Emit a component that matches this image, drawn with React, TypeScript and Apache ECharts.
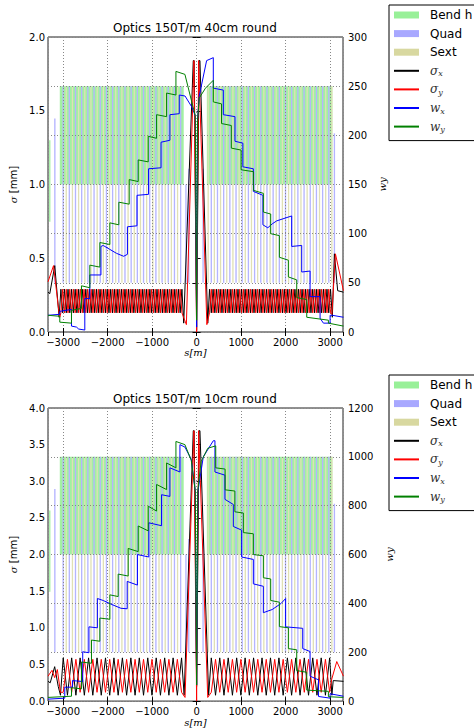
import React, { useEffect, useRef } from 'react';
import * as echarts from 'echarts';

// ---------- axes ----------
const S_RANGE = [-3340, 3290];
const titles = ['Optics 150T/m 40cm round', 'Optics 150T/m 10cm round'];
const sigmaAxisMax = [2, 4];
const sigmaAxisStep = [0.5, 0.5];
const wAxisMax = [300, 1200];
const wAxisStep = [50, 200];

const legendNames = ['Bend h', 'Quad', 'Sext', 'σx', 'σy', 'wx', 'wy'];

// ---------- lattice (heights in units of the 40cm chart right axis) ----------
const bendRanges = [[-3075, -290], [230, 3050]];
const extraBends = [[-3300, 112, 195]];
const quadS = [-3000, -2861, -2722, -2583, -2444, -2305, -2166, -2027, -1888, -1749, -1610, -1471, -1332, -1193, -1054, -915, -776, -637, -498, -359,
  330, 469, 608, 747, 886, 1025, 1164, 1303, 1442, 1581, 1720, 1859, 1998, 2137, 2276, 2415, 2554, 2693, 2832, 2971];
const extraQuads = [[-3186, 217], [-240, 150], [-177, 166], [145, 166], [3097, 202]];
const sextS = [-2930, -2791, -2652, -2513, -2374, -2235, -2096, -1957, -1818, -1679, -1540, -1401, -1262, -1123, -984, -845, -706, -567, -428,
  260, 399, 538, 677, 816, 955, 1094, 1233, 1372, 1511, 1650, 1789, 1928, 2067, 2206, 2345, 2484, 2623, 2762, 2901, 3040];

// ---------- sigma, 40cm ----------
const sigmaTopLeftS = [-3050, -3010, -2970, -2930, -2890, -2850, -2810, -2770, -2730, -2690, -2650, -2610, -2570, -2530, -2490, -2450, -2410, -2370, -2330, -2290, -2250, -2210, -2170, -2130, -2090, -2050, -2010, -1970, -1930, -1890, -1850, -1810, -1770, -1730, -1690, -1650, -1610, -1570, -1530, -1490, -1450, -1410, -1370, -1330, -1290, -1250, -1210, -1170, -1130, -1090, -1050, -1010, -970, -930, -890, -850, -810, -770, -730, -690, -650, -610, -570, -530, -490, -450, -410, -370, -330];
const sigmaTopRightS = [290, 330, 370, 410, 450, 490, 530, 570, 610, 650, 690, 730, 770, 810, 850, 890, 930, 970, 1010, 1050, 1090, 1130, 1170, 1210, 1250, 1290, 1330, 1370, 1410, 1450, 1490, 1530, 1570, 1610, 1650, 1690, 1730, 1770, 1810, 1850, 1890, 1930, 1970, 2010, 2050, 2090, 2130, 2170, 2210, 2250, 2290, 2330, 2370, 2410, 2450, 2490, 2530, 2570, 2610, 2650, 2690, 2730, 2770, 2810, 2850, 2890, 2930, 2970, 3010];
const sigmaTopLevels = [0.29, 0.13, 0.29, 0.13]; // x peak, x trough, y peak, y trough
const sigmaXTopLeftEnd = [[-3340, 0.27], [-3300, 0.26], [-3188, 0.45], [-3090, 0.1]];
const sigmaXTopCenter = [[-290, 0.06], [-75, 1.84], [-55, 1.84], [0, 0.01], [55, 1.84], [75, 1.84], [250, 0.06]];
const sigmaXTopRightEnd = [[3050, 0.1], [3097, 0.53], [3170, 0.28], [3300, 0.27]];
const sigmaYTopLeftEnd = [[-3340, 0.34], [-3216, 0.45], [-3100, 0.15], [-3075, 0.1]];
const sigmaYTopCenter = [[-230, 0.05], [-60, 1.84], [-45, 1.84], [0, 0.0], [45, 1.84], [60, 1.84], [230, 0.05]];
const sigmaYTopRightEnd = [[3040, 0.12], [3120, 0.53], [3300, 0.28]];

// ---------- w, 40cm ----------
const wxTop = [[-3340, 17], [-3075, 18], [-3075, 21], [-2812, 23], [-2812, 6], [-2700, 5], [-2650, 3], [-2513, 2], [-2513, 34], [-2400, 34], [-2400, 58], [-2150, 58], [-2150, 87], [-2100, 88], [-1950, 84], [-1800, 80], [-1640, 77], [-1555, 79], [-1555, 107], [-1340, 108], [-1340, 139], [-1080, 140], [-1080, 166], [-800, 167], [-800, 193], [-600, 195], [-600, 221], [-390, 222], [-390, 241], [-260, 240], [-110, 229], [-30, 220], [0, 5], [20, 215], [59, 240], [225, 276], [375, 279], [375, 248], [600, 246], [600, 221], [862, 219], [862, 194], [1040, 192], [1040, 168], [1275, 166], [1275, 143], [1490, 139], [1490, 109], [1600, 106], [1700, 110], [1800, 113], [2137, 118], [2137, 87], [2362, 88], [2362, 61], [2550, 62], [2550, 36], [2775, 36], [2775, 14], [2850, 9], [3000, 9], [3000, 17], [3050, 17], [3300, 15]];
const wyTop = [[-3340, 17], [-3075, 16], [-3075, 10], [-2812, 9], [-2812, 22], [-2588, 24], [-2588, 47], [-2400, 45], [-2400, 68], [-2175, 66], [-2175, 91], [-1950, 89], [-1950, 111], [-1748, 109], [-1748, 132], [-1515, 130], [-1515, 155], [-1313, 153], [-1313, 175], [-1088, 173], [-1088, 199], [-900, 197], [-900, 221], [-675, 219], [-675, 243], [-465, 241], [-465, 265], [-263, 262], [-120, 236], [-30, 220], [0, 12], [20, 215], [60, 238], [200, 248], [375, 256], [375, 234], [560, 232], [560, 212], [780, 210], [780, 187], [1000, 185], [1000, 165], [1280, 163], [1280, 144], [1500, 141], [1500, 122], [1665, 120], [1665, 100], [1860, 98], [1860, 76], [2062, 73], [2062, 56], [2250, 53], [2250, 35], [2475, 33], [2475, 15], [2962, 12], [2962, 9], [3300, 6]];

// ---------- sigma, 10cm ----------
const sigmaBottomLeftS = [-2998, -2903, -2808, -2713, -2618, -2523, -2428, -2333, -2238, -2143, -2048, -1953, -1858, -1763, -1668, -1573, -1478, -1383, -1288, -1193, -1098, -1003, -908, -813, -718, -623, -528, -433, -338];
const sigmaBottomRightS = [330, 425, 520, 615, 710, 805, 900, 995, 1090, 1185, 1280, 1375, 1470, 1565, 1660, 1755, 1850, 1945, 2040, 2135, 2230, 2325, 2420, 2515, 2610, 2705, 2800, 2895, 2990];
const sigmaBottomLevels = [0.59, 0.08, 0.57, 0.12];
const sigmaXBottomLeftEnd = [[-3340, 0.27], [-3290, 0.25], [-3190, 0.47], [-3110, 0.2], [-3060, 0.08]];
const sigmaXBottomCenter = [[-280, 0.08], [-75, 3.69], [-55, 3.69], [0, 0.2], [55, 3.69], [75, 3.69], [270, 0.08]];
const sigmaXBottomRightEnd = [[3040, 0.08], [3070, 0.28], [3300, 0.27]];
const sigmaYBottomLeftEnd = [[-3340, 0.34], [-3250, 0.42], [-3190, 0.32], [-3130, 0.43], [-3060, 0.12]];
const sigmaYBottomCenter = [[-260, 0.05], [-60, 3.69], [-45, 3.69], [0, 0.0], [45, 3.69], [60, 3.69], [250, 0.05]];
const sigmaYBottomRightEnd = [[3037, 0.3], [3150, 0.54], [3300, 0.34]];

// ---------- w, 10cm ----------
const wxBottom = [[-3340, 8], [-2963, 12], [-2963, 57], [-2790, 57], [-2790, 84], [-2560, 80], [-2560, 202], [-2420, 198], [-2420, 304], [-2230, 300], [-2230, 420], [-2100, 412], [-1900, 395], [-1700, 380], [-1560, 378], [-1560, 490], [-1330, 475], [-1330, 600], [-1075, 590], [-1075, 730], [-788, 718], [-788, 845], [-600, 838], [-600, 955], [-375, 938], [-375, 1050], [-263, 1040], [-120, 990], [-30, 860], [0, 66], [30, 860], [150, 1000], [375, 1066], [412, 1066], [412, 938], [637, 925], [637, 826], [825, 805], [825, 715], [1012, 700], [1012, 590], [1275, 580], [1275, 480], [1500, 470], [1500, 362], [1700, 375], [1900, 400], [2000, 420], [2000, 304], [2385, 298], [2385, 215], [2550, 203], [2550, 102], [2740, 87], [2740, 19], [3000, 12], [3000, 30], [3300, 20]];
const wyBottom = [[-3340, 15], [-2812, 20], [-2812, 55], [-2588, 50], [-2588, 160], [-2363, 155], [-2363, 250], [-2175, 245], [-2175, 340], [-1950, 335], [-1950, 435], [-1763, 428], [-1763, 520], [-1538, 512], [-1538, 625], [-1313, 612], [-1313, 717], [-1088, 697], [-1088, 798], [-900, 778], [-900, 887], [-675, 866], [-675, 975], [-465, 955], [-465, 1063], [-263, 1050], [-120, 985], [-30, 860], [0, 66], [25, 860], [100, 980], [250, 1035], [430, 1045], [430, 955], [640, 950], [640, 865], [860, 860], [860, 775], [1050, 770], [1050, 690], [1275, 685], [1275, 600], [1500, 595], [1500, 505], [1665, 500], [1665, 412], [1860, 405], [1860, 305], [2062, 300], [2062, 215], [2250, 210], [2250, 125], [2475, 118], [2475, 45], [2962, 40], [2962, 18], [3300, 15]];

// ---------- styling constants ----------
const LAT = { quadLo: 50, bendLo: 150, top: 250, quadHalf: 15, sextHalf: 10, thinHalf: 6 };
const COLORS = { bend: '#a2f0a2', quad: '#b4b4ff', sext: '#e0e0b4', sx: '#000000', sy: '#ff0000', wx: '#0000ff', wy: '#008000' };
const LEGEND_PATCH = { bend: '#98f098', quad: '#a8a8ff', sext: '#d8d8a0' };
const GRID = [{ left: 48, top: 37, width: 295, height: 295 }, { left: 48, top: 408, width: 295, height: 295 }];
const FONT = 'DejaVu Sans';
const SERIF = 'DejaVu Serif';

function band(sArr: number[], peak: number, trough: number, peakOnEven: boolean) {
  return sArr.map((s, i) => [s, ((i % 2 === 0) === peakOnEven) ? peak : trough]);
}

const renderBox = (params: any, api: any) => {
  const p0 = api.coord([api.value(0), api.value(3)]);
  const p1 = api.coord([api.value(1), api.value(2)]);
  let x = p0[0];
  let w = p1[0] - p0[0];
  if (w < 1.3) { x = (p0[0] + p1[0]) / 2 - 0.65; w = 1.3; }
  return { type: 'rect', shape: { x, y: p0[1], width: w, height: p1[1] - p0[1] }, style: { fill: api.value(4) } };
};

function richName(n: string) {
  if (n.length === 2 && (n[0] === 'σ' || n[0] === 'w')) return `{m|${n[0]}}{s|${n[1]}}`;
  return n;
}

const minus = (v: number) => (v < 0 ? '\u2212' + Math.abs(v) : String(v));

function buildOption() {
  const series: any[] = [];
  const xAxis: any[] = [];
  const yAxis: any[] = [];
  const title: any[] = [];
  const legend: any[] = [];
  const sigmaSets = [
    {
      sx: [...sigmaXTopLeftEnd, ...band(sigmaTopLeftS, sigmaTopLevels[0], sigmaTopLevels[1], true), ...sigmaXTopCenter, ...band(sigmaTopRightS, sigmaTopLevels[0], sigmaTopLevels[1], true), ...sigmaXTopRightEnd],
      sy: [...sigmaYTopLeftEnd, ...band(sigmaTopLeftS, sigmaTopLevels[2], sigmaTopLevels[3], false), ...sigmaYTopCenter, ...band(sigmaTopRightS, sigmaTopLevels[2], sigmaTopLevels[3], false), ...sigmaYTopRightEnd],
      wx: wxTop, wy: wyTop,
    },
    {
      sx: [...sigmaXBottomLeftEnd, ...band(sigmaBottomLeftS, sigmaBottomLevels[0], sigmaBottomLevels[1], true), ...sigmaXBottomCenter, ...band(sigmaBottomRightS, sigmaBottomLevels[0], sigmaBottomLevels[1], true), ...sigmaXBottomRightEnd],
      sy: [...sigmaYBottomLeftEnd, ...band(sigmaBottomLeftS, sigmaBottomLevels[2], sigmaBottomLevels[3], false), ...sigmaYBottomCenter, ...band(sigmaBottomRightS, sigmaBottomLevels[2], sigmaBottomLevels[3], false), ...sigmaYBottomRightEnd],
      wx: wxBottom, wy: wyBottom,
    },
  ];

  for (let i = 0; i < 2; i++) {
    const k = wAxisMax[i] / wAxisMax[0];
    const g = GRID[i];
    const tickStyle = { show: true, inside: true, length: 4, lineStyle: { color: '#000', width: 1 } };
    const labelStyle = { fontFamily: FONT, fontSize: 10, color: '#000' };
    xAxis.push({
      gridIndex: i, type: 'value', min: S_RANGE[0], max: S_RANGE[1], splitNumber: 6, position: 'bottom',
      axisLine: { show: false }, axisTick: tickStyle,
      axisLabel: { ...labelStyle, margin: 5, formatter: (v: number) => minus(v), showMinLabel: false, showMaxLabel: false },
      splitLine: { show: true, lineStyle: { color: '#888', type: [1, 2], width: 1 } },
      name: 's[m]', nameLocation: 'middle', nameGap: 15,
      nameTextStyle: { fontFamily: SERIF, fontStyle: 'italic', fontSize: 10, color: '#000' },
    });
    yAxis.push({
      gridIndex: i, type: 'value', min: 0, max: sigmaAxisMax[i], interval: sigmaAxisStep[i], position: 'left',
      axisLine: { show: false }, axisTick: tickStyle,
      axisLabel: { ...labelStyle, margin: 3, formatter: (v: number) => v.toFixed(1) },
      splitLine: { show: false },
      name: '{m|σ} [mm]', nameLocation: 'middle', nameGap: 22, nameRotate: 90,
      nameTextStyle: { fontFamily: FONT, fontSize: 10, color: '#000', rich: { m: { fontFamily: SERIF, fontStyle: 'italic', fontSize: 10 } } },
    });
    yAxis.push({
      gridIndex: i, type: 'value', min: 0, max: wAxisMax[i], interval: wAxisStep[i], position: 'right',
      axisLine: { show: false }, axisTick: tickStyle,
      axisLabel: { ...labelStyle, margin: 5, formatter: (v: number) => String(v) },
      splitLine: { show: true, lineStyle: { color: '#888', type: [1, 2], width: 1 } },
      name: 'wy', nameLocation: 'middle', nameGap: 31, nameRotate: 90,
      nameTextStyle: { fontFamily: SERIF, fontStyle: 'italic', fontSize: 10, color: '#000' },
    });
    title.push({
      text: titles[i], left: 113, top: g.top - 16, padding: 0,
      textStyle: { fontFamily: FONT, fontSize: 12, fontWeight: 'normal', color: '#000', lineHeight: 14 },
    });
    legend.push({
      data: legendNames.map((n, j) => (j < 3 ? { name: n, icon: 'rect' } : { name: n, itemStyle: { opacity: 0 } })),
      orient: 'vertical', left: 389, top: i === 0 ? 5 : 375,
      itemWidth: 25, itemHeight: 7, itemGap: 4.6,
      padding: [3, 40, 7, 4],
      backgroundColor: '#fff', borderColor: '#000', borderWidth: 1,
      selectedMode: false,
      formatter: (n: string) => richName(n),
      textStyle: {
        fontFamily: FONT, fontSize: 12, color: '#000', lineHeight: 14, padding: [0, 0, 0, 6],
        rich: {
          m: { fontFamily: SERIF, fontStyle: 'italic', fontSize: 12, lineHeight: 14, color: '#333' },
          s: { fontFamily: SERIF, fontStyle: 'italic', fontSize: 8, lineHeight: 9, verticalAlign: 'bottom', color: '#333' },
        },
      },
    });

    const xi = i;
    const yl = 2 * i;
    const yr = 2 * i + 1;
    const bendData = [
      ...bendRanges.map(([a, b]) => [a, b, LAT.bendLo * k, LAT.top * k, COLORS.bend]),
      ...extraBends.map(([s, lo, hi]) => [s - LAT.thinHalf, s + LAT.thinHalf, lo * k, hi * k, COLORS.bend]),
    ];
    const quadData = [
      ...quadS.map((s) => [s - LAT.quadHalf, s + LAT.quadHalf, LAT.quadLo * k, LAT.top * k, COLORS.quad]),
      ...extraQuads.map(([s, hi]) => [s - LAT.quadHalf, s + LAT.quadHalf, LAT.quadLo * k, hi * k, COLORS.quad]),
    ];
    const sextData = sextS.map((s) => [s - LAT.sextHalf, s + LAT.sextHalf, LAT.quadLo * k, LAT.top * k, COLORS.sext]);
    const custom = (name: string, color: string, data: any[]) => ({
      type: 'custom', name, data, xAxisIndex: xi, yAxisIndex: yr, renderItem: renderBox,
      encode: { x: [0, 1], y: [2, 3] }, itemStyle: { color }, clip: true, silent: true, z: -1,
    });
    series.push(custom('Bend h', LEGEND_PATCH.bend, bendData));
    series.push(custom('Quad', LEGEND_PATCH.quad, quadData));
    series.push(custom('Sext', LEGEND_PATCH.sext, sextData));
    const line = (name: string, color: string, data: any[], yi: number, z: number) => ({
      type: 'line', name, data, xAxisIndex: xi, yAxisIndex: yi, symbol: 'none', showSymbol: false,
      lineStyle: { color, width: 1 }, itemStyle: { color }, color, clip: true, silent: true, z,
    });
    const set = sigmaSets[i];
    series.push(line('σx', COLORS.sx, set.sx, yl, 2));
    series.push(line('σy', COLORS.sy, set.sy, yl, 3));
    series.push(line('wx', COLORS.wx, set.wx, yr, 4));
    series.push(line('wy', COLORS.wy, set.wy, yr, 5));
  }
  // top tick axes
  for (let i = 0; i < 2; i++) {
    xAxis.push({
      gridIndex: i, type: 'value', min: S_RANGE[0], max: S_RANGE[1], splitNumber: 6, position: 'top',
      axisLine: { show: false }, axisTick: { show: true, inside: true, length: 4, lineStyle: { color: '#000' } },
      axisLabel: { show: false }, splitLine: { show: false },
    });
  }

  return {
    animation: false,
    backgroundColor: '#fff',
    grid: GRID.map((g) => ({ ...g, show: true, borderColor: '#222', borderWidth: 1, backgroundColor: 'transparent' })),
    title, legend, xAxis, yAxis, series,
  };
}

export default function App() {
  const ref = useRef<HTMLDivElement>(null);
  useEffect(() => {
    if (!ref.current) return;
    const chart = echarts.init(ref.current, undefined, { renderer: 'svg' });
    chart.setOption(buildOption() as any);
    return () => chart.dispose();
  }, []);
  return <div ref={ref} style={{ position: 'absolute', left: 0, top: 0, width: 474, height: 728 }} />;
}
